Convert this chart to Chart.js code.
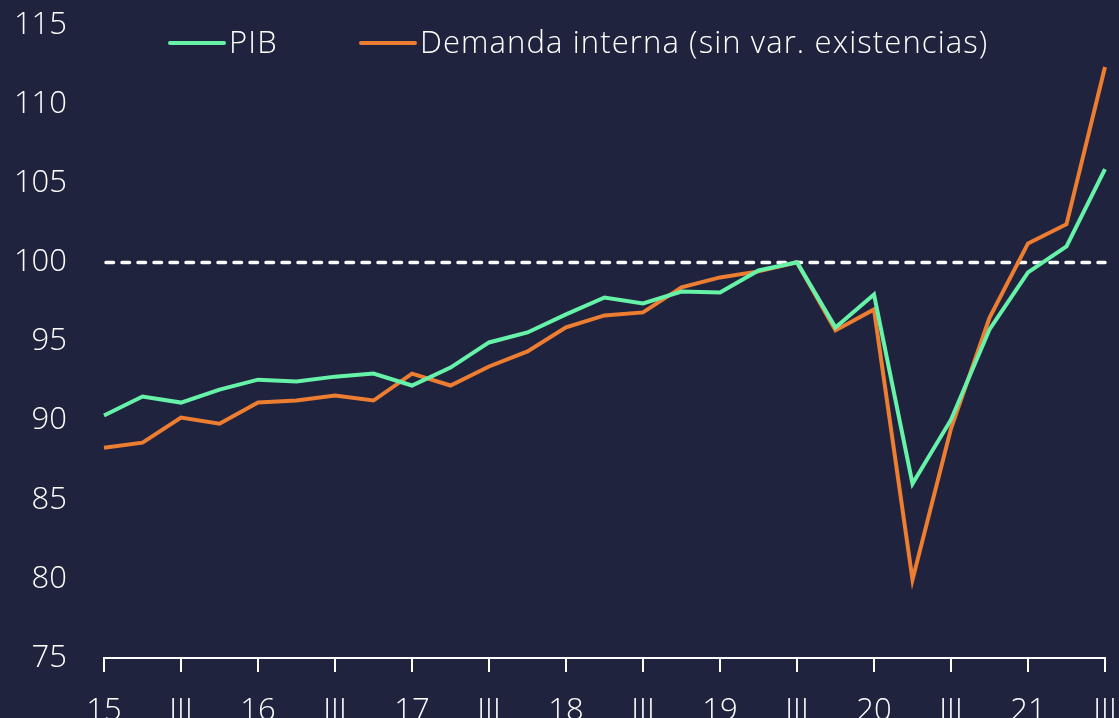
<!DOCTYPE html>
<html>
<head>
<meta charset="utf-8">
<script src="https://cdn.jsdelivr.net/npm/chart.js@4.4.0/dist/chart.umd.min.js"></script>
<style>
    html, body { margin: 0; padding: 0; background: #1f233d; }
    #wrap { width: 1119px; height: 718px; }
</style>
</head>
<body>
<div id="wrap"><canvas id="chart" width="1119" height="718"></canvas></div>
<script>
// Quarterly index, 2019 Q3 = 100
const quarterLabels = ['15', '', 'III', '', '16', '', 'III', '', '17', '', 'III', '', '18', '', 'III', '',
    '19', '', 'III', '', '20', '', 'III', '', '21', '', 'III'];

const pib = [90.32, 91.52, 91.14, 91.96, 92.59, 92.47, 92.78, 92.97, 92.22, 93.35, 94.94, 95.57, 96.71,
    97.78, 97.41, 98.16, 98.10, 99.49, 100.0, 95.89, 97.97, 86.01, 90.06, 95.76, 99.37, 101.01, 105.89];

const demandaInterna = [88.29, 88.61, 90.19, 89.81, 91.14, 91.27, 91.58, 91.27, 92.97, 92.22, 93.42, 94.37, 95.89,
    96.65, 96.84, 98.42, 99.05, 99.43, 100.0, 95.70, 97.03, 79.94, 89.50, 96.50, 101.20, 102.41, 112.34];

const seriesNames = ['PIB', 'Demanda interna (sin var. existencias)'];
const baseLevel = 100;

const colors = {
    bg: '#1f233d',
    green: '#66f2a8',
    orange: '#ed7d31',
    text: '#ffffff'
};

const FONT = "'Open Sans', 'Lato', sans-serif";

// dashed reference line at 100
const baseLinePlugin = {
    id: 'baseLine',
    beforeDatasetsDraw(chart) {
        const { ctx, chartArea, scales } = chart;
        const y = scales.y.getPixelForValue(baseLevel);
        ctx.save();
        ctx.strokeStyle = '#ffffff';
        ctx.lineWidth = 3.5;
        ctx.setLineDash([7.5, 8.5]);
        ctx.lineCap = 'round';
        ctx.beginPath();
        ctx.moveTo(chartArea.left + 2, y);
        ctx.lineTo(chartArea.right, y);
        ctx.stroke();
        ctx.restore();
    }
};

// legend drawn inside the plot, like the original
const innerLegend = {
    id: 'innerLegend',
    afterDraw(chart) {
        const { ctx } = chart;
        const items = [
            { x: 170, color: colors.green, text: seriesNames[0] },
            { x: 361, color: colors.orange, text: seriesNames[1] }
        ];
        const y = 43;
        ctx.save();
        ctx.font = '300 31px ' + FONT;
        ctx.letterSpacing = '1.1px';
        ctx.textBaseline = 'middle';
        ctx.fillStyle = colors.text;
        items.forEach(it => {
            ctx.strokeStyle = it.color;
            ctx.lineWidth = 4;
            ctx.lineCap = 'round';
            ctx.beginPath();
            ctx.moveTo(it.x, y);
            ctx.lineTo(it.x + 54, y);
            ctx.stroke();
            ctx.fillText(it.text, it.x + 59, y + 1);
        });
        ctx.restore();
    }
};

new Chart(document.getElementById('chart'), {
    type: 'line',
    data: {
        labels: quarterLabels,
        datasets: [{
            label: seriesNames[0],
            data: pib,
            borderColor: colors.green,
            borderWidth: 4,
            pointRadius: 0,
            tension: 0,
            fill: false
        }, {
            label: seriesNames[1],
            data: demandaInterna,
            borderColor: colors.orange,
            borderWidth: 4,
            pointRadius: 0,
            tension: 0,
            fill: false
        }]
    },
    options: {
        responsive: false,
        animation: false,
        layout: { padding: { top: 25, right: 14, left: 0, bottom: 0 } },
        plugins: {
            legend: { display: false },
            tooltip: { enabled: false }
        },
        scales: {
            x: {
                offset: false,
                border: { display: true, color: '#ffffff', width: 2 },
                grid: {
                    drawOnChartArea: false,
                    drawTicks: true,
                    tickLength: 14,
                    color: '#ffffff',
                    lineWidth: 2
                },
                ticks: {
                    autoSkip: false,
                    maxRotation: 0,
                    color: colors.text,
                    padding: 21,
                    font: { family: FONT, size: 31, weight: 300 },
                    callback(value, index) {
                        const lbl = quarterLabels[index];
                        return lbl === '' ? null : lbl;
                    }
                },
                afterFit(scale) {
                    scale.height = 60;
                    scale.paddingLeft = 0;
                    scale.paddingRight = 0;
                }
            },
            y: {
                min: 75,
                max: 115,
                border: { display: false },
                grid: { display: false, drawTicks: false },
                ticks: {
                    stepSize: 5,
                    color: colors.text,
                    padding: 37,
                    font: { family: FONT, size: 31, weight: 300 }
                },
                afterFit(scale) {
                    scale.width = 104;
                    scale.paddingTop = 0;
                    scale.paddingBottom = 0;
                }
            }
        }
    },
    plugins: [baseLinePlugin, innerLegend]
});
</script>
</body>
</html>
